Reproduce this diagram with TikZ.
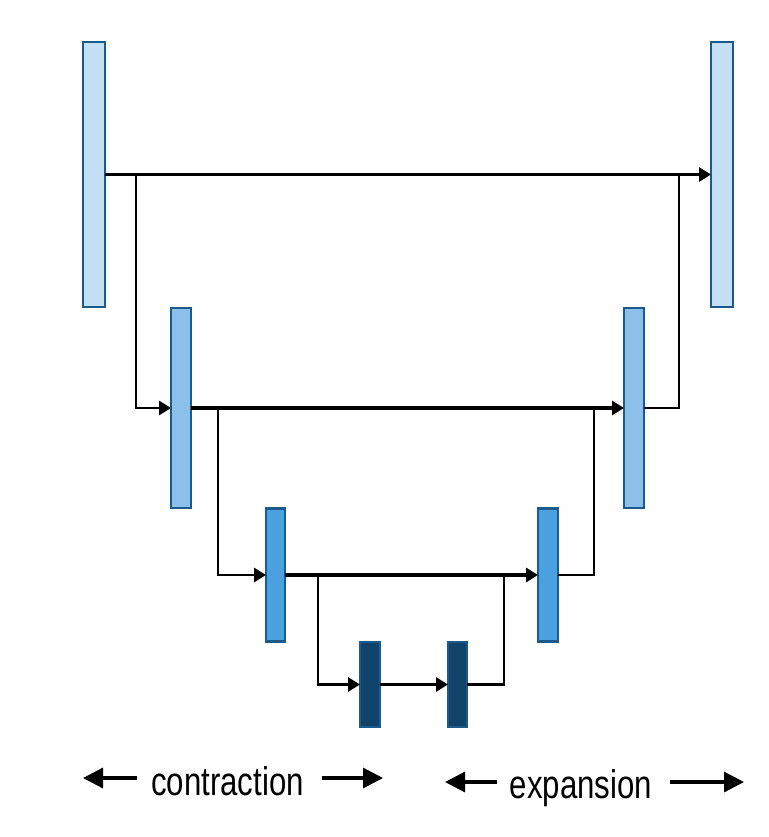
\documentclass[tikz,border=0pt]{standalone}
\usepackage{fontspec}
\newfontfamily\labfont[FakeStretch=0.78]{Liberation Sans}
\usetikzlibrary{arrows.meta}
\definecolor{cA}{RGB}{197,224,244}
\definecolor{cB}{RGB}{139,192,234}
\definecolor{cC}{RGB}{75,160,224}
\definecolor{cD}{RGB}{17,67,106}
\definecolor{edgeC}{RGB}{28,90,140}
\begin{document}
\begin{tikzpicture}[x=1pt,y=-1pt,
  blk/.style={draw=edgeC, line width=2.3pt, inner sep=0pt, outer sep=0pt, rectangle},
  arr/.style={draw=black, line width=3.2pt, -{Triangle[length=12pt,width=14pt]}},
  brn/.style={draw=black, line width=2.8pt, -{Triangle[length=12pt,width=14pt]}},
  ret/.style={draw=black, line width=2.3pt},
  labarr/.style={draw=black, line width=3.2pt, -{Triangle[length=20pt,width=20pt]}},
  lab/.style={font=\labfont\fontsize{40}{48}\selectfont, inner sep=0pt, anchor=base}]
\useasboundingbox (0,0) rectangle (768,837);
% blocks
\node[blk, fill=cA, minimum width=22pt, minimum height=265pt] (b1) at (94,174.5) {};
\node[blk, fill=cA, minimum width=22pt, minimum height=265pt] (r1) at (722,174.5) {};
\node[blk, fill=cB, minimum width=20pt, minimum height=200pt] (b2) at (181,408) {};
\node[blk, fill=cB, minimum width=20pt, minimum height=200pt] (r2) at (634,408) {};
\node[blk, fill=cC, minimum width=19pt, minimum height=133pt] (b3) at (275.5,575) {};
\node[blk, fill=cC, minimum width=20pt, minimum height=133pt] (r3) at (548,575) {};
\node[blk, fill=cD, minimum width=20pt, minimum height=85pt] (b4) at (370,684.5) {};
\node[blk, fill=cD, minimum width=19pt, minimum height=85pt] (b5) at (457.5,684.5) {};
% junctions
\coordinate (j1) at (136,174.5);
\coordinate (k1) at (679,174.5);
\coordinate (j2) at (218,408);
\coordinate (k2) at (594,408);
\coordinate (j3) at (318,575);
\coordinate (k3) at (504,575);
% connectors
\draw[arr] (b1.east) -- (r1.west);
\draw[brn] (j1) |- (b2.west);
\draw[ret] (r2.east) -| (k1);
\draw[arr] (b2.east) -- (r2.west);
\draw[brn] (j2) |- (b3.west);
\draw[ret] (r3.east) -| (k2);
\draw[arr] (b3.east) -- (r3.west);
\draw[brn] (j3) |- (b4.west);
\draw[arr] (b4.east) -- (b5.west);
\draw[ret] (b5.east) -| (k3);
% labels
\node[lab] (tc) at (227.5,795) {contraction};
\node[lab] (te) at (581,798) {expansion};
\coordinate (ca1) at (137,778);
\coordinate (ca2) at (83,778);
\coordinate (cb1) at (322,778);
\coordinate (cb2) at (383,778);
\coordinate (ea1) at (497,782);
\coordinate (ea2) at (445,782);
\coordinate (eb1) at (670,782);
\coordinate (eb2) at (744,782);
\draw[labarr] (ca1) -- (ca2);
\draw[labarr] (cb1) -- (cb2);
\draw[labarr] (ea1) -- (ea2);
\draw[labarr] (eb1) -- (eb2);
\end{tikzpicture}
\end{document}
